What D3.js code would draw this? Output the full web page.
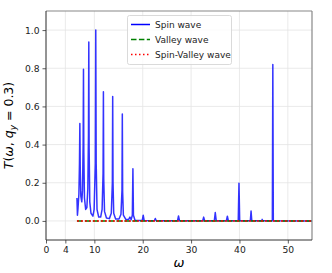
<!DOCTYPE html>
<html>
<head>
<meta charset="utf-8">
<script src="https://cdn.jsdelivr.net/npm/d3@7"></script>
<style>
  body { margin: 0; background: #fff; }
  svg text { font-family: "DejaVu Sans", sans-serif; }
</style>
</head>
<body>
<div id="chart"></div>
<script>
// spin wave (omega, T)
var spinOmega = [6.4, 6.5, 6.6, 6.8, 6.92, 7.0, 7.08, 7.2, 7.4, 7.55, 7.68, 7.75, 7.82, 7.95, 8.2, 8.45, 8.65, 8.78, 8.85, 8.92, 9.05, 9.3, 9.7, 9.95, 10.2, 10.29, 10.38, 10.55, 10.9, 11.3, 11.6, 11.8, 11.87, 11.94, 12.1, 12.5, 13.1, 13.5, 13.72, 13.79, 13.86, 14.0, 14.4, 15.1, 15.5, 15.71, 15.78, 15.85, 16.0, 16.5, 17.1, 17.35, 17.6, 17.85, 17.97, 18.08, 18.4, 19.0, 19.9, 20.1, 20.3, 22.4, 22.6, 22.8, 27.2, 27.4, 27.6, 32.4, 32.6, 32.8, 34.8, 35.0, 35.2, 37.3, 37.5, 37.7, 39.75, 39.9, 40.05, 42.25, 42.4, 42.55, 44.6, 44.7, 44.8, 46.8, 46.9, 47.0, 55];
var spinT = [0.12, 0.03, 0.06, 0.14, 0.3, 0.51, 0.28, 0.13, 0.1, 0.16, 0.4, 0.795, 0.36, 0.12, 0.06, 0.07, 0.17, 0.45, 0.937, 0.38, 0.1, 0.04, 0.025, 0.06, 0.3, 1.0, 0.3, 0.06, 0.02, 0.02, 0.06, 0.25, 0.677, 0.22, 0.05, 0.015, 0.012, 0.04, 0.2, 0.652, 0.2, 0.04, 0.01, 0.01, 0.035, 0.16, 0.56, 0.15, 0.03, 0.008, 0.008, 0.02, 0.006, 0.03, 0.273, 0.03, 0.004, 0.002, 0.002, 0.03, 0.002, 0.001, 0.013, 0.001, 0.001, 0.026, 0.001, 0.001, 0.02, 0.001, 0.001, 0.044, 0.001, 0.001, 0.025, 0.001, 0.001, 0.198, 0.001, 0.001, 0.052, 0.001, 0.001, 0.008, 0.001, 0.001, 0.82, 0.001, 0.0];
var valleyOmega = [6.4, 55];
var valleyT = [0, 0];
var spinValleyOmega = [6.4, 55];
var spinValleyT = [0, 0];

var xTicks = [0, 4, 10, 20, 30, 40, 50];
var yTicks = [0.0, 0.2, 0.4, 0.6, 0.8, 1.0];
var legendNames = ["Spin wave", "Valley wave", "Spin-Valley wave"];

var W = 332, H = 273;
var pL = 46, pR = 312, pT = 11, pB = 240;

var svg = d3.select("#chart").append("svg")
	.attr("width", W)
	.attr("height", H);

var x = d3.scaleLinear().domain([0, 55]).range([pL, pR]);
var y = d3.scaleLinear().domain([-0.1, 1.1]).range([pB, pT]);

/**  grid  **/
svg.append("g").selectAll("line")
	.data(xTicks)
	.enter().append("line")
	  .attr("x1", function(d) { return x(d) }).attr("x2", function(d) { return x(d) })
	  .attr("y1", pT).attr("y2", pB)
	  .attr("stroke", "#e4e4e4").attr("stroke-width", 0.8);
svg.append("g").selectAll("line")
	.data(yTicks)
	.enter().append("line")
	  .attr("x1", pL).attr("x2", pR)
	  .attr("y1", function(d) { return y(d) }).attr("y2", function(d) { return y(d) })
	  .attr("stroke", "#e4e4e4").attr("stroke-width", 0.8);

/**  axes  **/
var xAxis = d3.axisBottom(x).tickValues(xTicks).tickSize(3.5).tickPadding(2.5).tickFormat(d3.format("d"));
var yAxis = d3.axisLeft(y).tickValues(yTicks).tickSize(3.5).tickPadding(3).tickFormat(d3.format(".1f"));

var gx = svg.append("g")
	.attr("transform", "translate(0," + pB + ")")
	.call(xAxis);
var gy = svg.append("g")
	.attr("transform", "translate(" + pL + ",0)")
	.call(yAxis);
[gx, gy].forEach(function(g) {
	g.select(".domain").remove();
	g.selectAll(".tick line").attr("stroke", "#333").attr("stroke-width", 0.8);
	g.selectAll("text").attr("font-size", 9.2).attr("fill", "#222")
		.style("font-family", "DejaVu Sans, sans-serif");
});

/**  data lines  **/
function pts(xs, ys) { return xs.map(function(d, i) { return [d, ys[i]] }); }
var line = d3.line()
	.x(function(d) { return x(d[0]) })
	.y(function(d) { return y(d[1]) });

svg.append("path")
	.datum(pts(spinOmega, spinT))
	.attr("d", line)
	.attr("fill", "none")
	.attr("stroke", "blue")
	.attr("stroke-opacity", 0.8)
	.attr("stroke-width", 1.5)
	.attr("stroke-linejoin", "round");

svg.append("path")
	.datum(pts(valleyOmega, valleyT))
	.attr("d", line)
	.attr("fill", "none")
	.attr("stroke", "green")
	.attr("stroke-width", 1.5)
	.attr("stroke-dasharray", "5.5,2.4");

svg.append("path")
	.datum(pts(spinValleyOmega, spinValleyT))
	.attr("d", line)
	.attr("fill", "none")
	.attr("stroke", "red")
	.attr("stroke-width", 1.5)
	.attr("stroke-dasharray", "2,2");

/**  frame  **/
svg.append("line").attr("x1", pL).attr("x2", pR).attr("y1", pT).attr("y2", pT)
	.attr("stroke", "#888").attr("stroke-width", 1.2);
svg.append("line").attr("x1", pR).attr("x2", pR).attr("y1", pT).attr("y2", pB)
	.attr("stroke", "#888").attr("stroke-width", 1.2);
svg.append("line").attr("x1", pL).attr("x2", pR).attr("y1", pB).attr("y2", pB)
	.attr("stroke", "#333").attr("stroke-width", 1);
svg.append("line").attr("x1", pL).attr("x2", pL).attr("y1", pT).attr("y2", pB)
	.attr("stroke", "#333").attr("stroke-width", 1);

/**  labels  **/
svg.append("text")
	.attr("x", (pL + pR) / 2)
	.attr("y", 267)
	.attr("text-anchor", "middle")
	.attr("font-size", 13)
	.attr("font-style", "italic")
	.text("ω");

var yl = svg.append("text")
	.attr("transform", "translate(13," + ((pT + pB) / 2) + ") rotate(-90)")
	.attr("text-anchor", "middle")
	.attr("font-size", 12.5);
yl.append("tspan").attr("font-style", "italic").text("T");
yl.append("tspan").text("(");
yl.append("tspan").attr("font-style", "italic").text("ω");
yl.append("tspan").text(", ");
yl.append("tspan").attr("font-style", "italic").text("q");
yl.append("tspan").attr("font-style", "italic").attr("font-size", 9).attr("dy", 3).text("y");
yl.append("tspan").attr("dy", -3).text(" = 0.3)");

/**  legend  **/
var lg = svg.append("g");
lg.append("rect")
	.attr("x", 127.5).attr("y", 15.5)
	.attr("width", 104).attr("height", 49)
	.attr("rx", 2)
	.attr("fill", "white").attr("fill-opacity", 0.8)
	.attr("stroke", "#d0d0d0").attr("stroke-width", 0.8);
var styles = [
	{ c: "blue", dash: null },
	{ c: "green", dash: "5.5,2.4" },
	{ c: "red", dash: "1.5,2.5" }
];
legendNames.forEach(function(name, i) {
	var yy = 24.5 + i * 15;
	lg.append("line")
		.attr("x1", 131).attr("x2", 150)
		.attr("y1", yy).attr("y2", yy)
		.attr("stroke", styles[i].c)
		.attr("stroke-width", 1.5)
		.attr("stroke-dasharray", styles[i].dash);
	lg.append("text")
		.attr("x", 155).attr("y", yy + 3.3)
		.attr("font-size", 9)
		.attr("fill", "#222")
		.text(name);
});
</script>
</body>
</html>
